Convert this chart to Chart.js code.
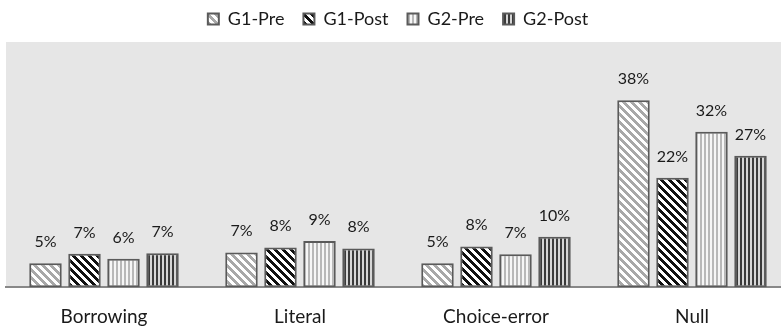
<!DOCTYPE html>
<html>
<head>
<meta charset="utf-8">
<script src="https://cdn.jsdelivr.net/npm/chart.js@4/dist/chart.umd.min.js"></script>
<style>
  html, body { margin: 0; padding: 0; background: #fff; overflow: hidden; }
  #wrap { position: relative; width: 790px; height: 346px; }
</style>
</head>
<body>
<div id="wrap"><canvas id="chart"></canvas></div>
<script>
const categories = ['Borrowing', 'Literal', 'Choice-error', 'Null'];
const seriesNames = ['G1-Pre', 'G1-Post', 'G2-Pre', 'G2-Post'];
const g1Pre = [4.9, 7.1, 4.9, 38.1];
const g1Post = [6.8, 8.1, 8.3, 22.3];
const g2Pre = [5.8, 9.4, 6.7, 31.7];
const g2Post = [6.9, 7.9, 10.3, 26.8];

const FONT = 'Lato, "Open Sans", sans-serif';

// little tile canvases used as fill patterns
function makePattern(size, painter) {
  const c = document.createElement('canvas');
  c.width = size; c.height = size;
  const g = c.getContext('2d');
  for (let y = 0; y < size; y++) {
    for (let x = 0; x < size; x++) {
      g.fillStyle = painter(x, y);
      g.fillRect(x, y, 1, 1);
    }
  }
  return g.createPattern(c, 'repeat');
}

const ctx = document.getElementById('chart').getContext('2d');

const pats = [
  makePattern(8, (x, y) => (((x - y) % 8 + 8) % 8) < 4 ? '#a8a8a8' : '#ffffff'),
  makePattern(8, (x, y) => (((x - y) % 8 + 8) % 8) < 4 ? '#111111' : '#ffffff'),
  makePattern(4, (x, y) => x % 4 < 2 ? '#b8b8b8' : '#f6f6f6'),
  makePattern(4, (x, y) => x % 4 < 2 ? '#3a3a3a' : '#d6d6d6')
];

const allSeries = [g1Pre, g1Post, g2Pre, g2Post];

const plotBg = {
  id: 'plotBg',
  beforeDraw(chart) {
    const a = chart.chartArea;
    const c = chart.ctx;
    c.save();
    c.fillStyle = '#e6e6e6';
    c.fillRect(a.left, a.top, a.right - a.left, a.bottom - a.top);
    c.restore();
  }
};

const valueLabels = {
  id: 'valueLabels',
  afterDatasetsDraw(chart) {
    const c = chart.ctx;
    c.save();
    c.font = '16px ' + FONT;
    c.fillStyle = '#1a1a1a';
    c.textAlign = 'center';
    c.textBaseline = 'alphabetic';
    chart.data.datasets.forEach((ds, i) => {
      chart.getDatasetMeta(i).data.forEach((bar, j) => {
        c.fillText(Math.round(ds.data[j]) + '%', bar.x, bar.y - 16);
      });
    });
    c.restore();
  }
};

// fixed legend block height, legend nudged up a bit
const legendHeight = {
  id: 'legendHeight',
  beforeInit(chart) {
    const fit = chart.legend.fit;
    chart.legend.fit = function () {
      fit.bind(chart.legend)();
      this.height = 42;
    };
  },
  afterLayout(chart) {
    chart.legend.top -= 9;
  }
};

new Chart(ctx, {
  type: 'bar',
  data: {
    labels: categories,
    datasets: seriesNames.map((name, i) => ({
      label: name,
      data: allSeries[i],
      backgroundColor: pats[i],
      borderColor: '#5a5a5a',
      borderWidth: 2,
      borderSkipped: false,
      categoryPercentage: 0.796,
      barPercentage: 0.833
    }))
  },
  options: {
    responsive: true,
    maintainAspectRatio: false,
    animation: false,
    layout: { padding: { left: 6, right: 0, top: 0, bottom: 0 } },
    plugins: {
      tooltip: { enabled: false },
      legend: {
        position: 'top',
        labels: {
          boxWidth: 11,
          boxHeight: 11,
          padding: 19,
          color: '#1a1a1a',
          font: { family: FONT, size: 18 }
        }
      }
    },
    scales: {
      x: {
        grid: { display: false, drawTicks: false },
        border: { display: true, color: '#888888', width: 2 },
        ticks: { color: '#1a1a1a', padding: 18, font: { family: FONT, size: 19 } }
      },
      y: {
        display: false,
        min: 0,
        max: 50
      }
    }
  },
  plugins: [plotBg, valueLabels, legendHeight]
});
</script>
</body>
</html>
